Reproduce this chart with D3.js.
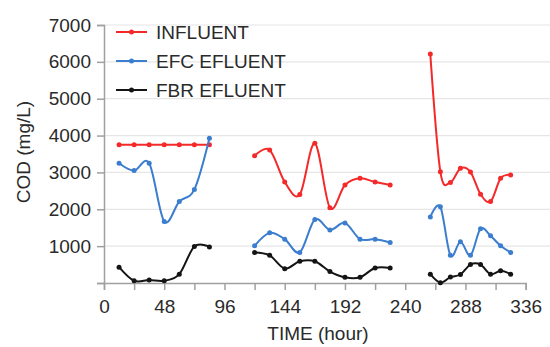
<!DOCTYPE html>
<html><head><meta charset="utf-8">
<script src="https://cdn.jsdelivr.net/npm/d3@7"></script>
<style>
html,body{margin:0;padding:0;background:#fff;}
text{font-family:"Liberation Sans",Arial,sans-serif;fill:#2a2a2a;}
</style></head>
<body><svg id="chart" width="550" height="347"></svg>
<script>
// Data
const hours1 = [12, 24, 36, 48, 60, 72, 84];
const hours2 = [120, 132, 144, 156, 168, 180, 192, 204, 216, 228];
const hours3 = [260, 268, 276, 284, 292, 300, 308, 316, 324];
const influent = [
  [3750, 3750, 3750, 3750, 3750, 3750, 3750],
  [3450, 3610, 2740, 2400, 3790, 2040, 2660, 2840, 2740, 2660],
  [6210, 3020, 2730, 3110, 3010, 2410, 2210, 2840, 2930]
];
const efcEffluent = [
  [3250, 3050, 3250, 1670, 2210, 2540, 3930],
  [1010, 1360, 1190, 830, 1720, 1440, 1630, 1190, 1190, 1100],
  [1790, 2070, 750, 1120, 750, 1470, 1280, 1010, 830]
];
const fbrEffluent = [
  [430, 60, 80, 60, 240, 990, 980],
  [830, 750, 390, 590, 590, 310, 155, 155, 407, 407],
  [240, 10, 160, 230, 500, 500, 240, 330, 240]
];
const seriesNames = ["INFLUENT", "EFC EFLUENT", "FBR EFLUENT"];
const seriesColors = ["#f42a2a", "#3b7dcf", "#141414"];
const yTicks = [1000, 2000, 3000, 4000, 5000, 6000, 7000];
const xTicks = [0, 24, 48, 72, 96, 120, 144, 168, 192, 216, 240, 264, 288, 312, 336];
const xLabels = [0, 48, 96, 144, 192, 240, 288, 336];
const xTitle = "TIME (hour)";
const yTitle = "COD (mg/L)";

const svg = d3.select("#chart");
const x = d3.scaleLinear().domain([0, 336]).range([104, 525.7]);
const y = d3.scaleLinear().domain([0, 7000]).range([283, 25]);

// gridlines
svg.append("g").selectAll("line").data(yTicks).join("line")
  .attr("x1", x(0)).attr("x2", 550)
  .attr("y1", d => y(d)).attr("y2", d => y(d))
  .attr("stroke", "#e6e6e6").attr("stroke-width", 1.2);

// axes
const axisColor = "#a0a0a0";
const yAxis = svg.append("g").attr("transform", `translate(${x(0)},0)`)
  .call(d3.axisLeft(y).tickValues([0].concat(yTicks)).tickSize(7).tickPadding(6)
    .tickFormat(d => d === 0 ? "" : d));
const xAxis = svg.append("g").attr("transform", `translate(0,${y(0)})`)
  .call(d3.axisBottom(x).tickValues(xTicks).tickSize(7).tickPadding(10)
    .tickFormat(d => xLabels.includes(d) ? d : ""));
[yAxis, xAxis].forEach(g => {
  g.select(".domain").attr("stroke", axisColor).attr("stroke-width", 1.5);
  g.selectAll(".tick line").attr("stroke", axisColor).attr("stroke-width", 1.5);
  g.selectAll(".tick text").attr("font-size", 19).attr("fill", "#2a2a2a")
    .attr("font-family", "Liberation Sans, Arial, sans-serif");
});

// titles
svg.append("text").attr("x", 318).attr("y", 340).attr("text-anchor", "middle")
  .attr("font-size", 19).text(xTitle);
svg.append("text").attr("transform", "translate(30,152) rotate(-90)")
  .attr("text-anchor", "middle").attr("font-size", 19).text(yTitle);

// series
const hourSets = [hours1, hours2, hours3];
const allSeries = [influent, efcEffluent, fbrEffluent];
const line = d3.line().x(d => x(d[0])).y(d => y(d[1])).curve(d3.curveCardinal.tension(0));
allSeries.forEach((series, si) => {
  const g = svg.append("g");
  series.forEach((vals, k) => {
    const pts = vals.map((v, i) => [hourSets[k][i], v]);
    g.append("path").attr("d", line(pts)).attr("fill", "none")
      .attr("stroke", seriesColors[si]).attr("stroke-width", 2);
    g.selectAll(null).data(pts).join("circle")
      .attr("cx", d => x(d[0])).attr("cy", d => y(d[1])).attr("r", 2.5)
      .attr("fill", seriesColors[si]);
  });
});

// legend
const legend = svg.append("g");
const legY = [32, 61, 90];
seriesNames.forEach((name, i) => {
  legend.append("line").attr("x1", 116).attr("x2", 147).attr("y1", legY[i]).attr("y2", legY[i])
    .attr("stroke", seriesColors[i]).attr("stroke-width", 2);
  legend.append("circle").attr("cx", 131.5).attr("cy", legY[i]).attr("r", 2.5)
    .attr("fill", seriesColors[i]);
  legend.append("text").attr("x", 156).attr("y", legY[i] + 7).attr("font-size", 19).text(name);
});
</script></body></html>
